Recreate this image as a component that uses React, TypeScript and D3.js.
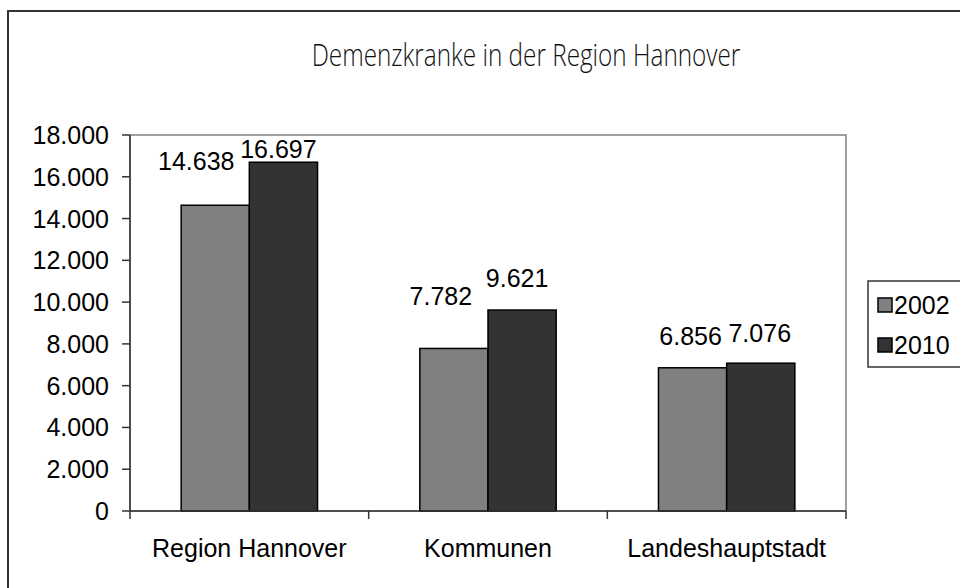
import * as d3 from 'd3'

const categories = ['Region Hannover', 'Kommunen', 'Landeshauptstadt']
const seriesNames = ['2002', '2010']
const values2002 = [14638, 7782, 6856]
const values2010 = [16697, 9621, 7076]
const yTicks = [0, 2000, 4000, 6000, 8000, 10000, 12000, 14000, 16000, 18000]

const COLORS = ['#808080', '#333333']
// hand-placed label nudges (dx, dy) as in the source chart
const LABEL_NUDGE = [
  [[-19, -31], [-5, 0]],
  [[-13, -39], [-5, -19]],
  [[-2, -19], [-1, -17]],
]

const de = d3.formatLocale({ decimal: ',', thousands: '.', grouping: [3], currency: ['', ' €'] })
const fmt = de.format(',d')

export default function App() {
  const W = 960
  const H = 588
  const plot = { left: 130, top: 135, right: 846, bottom: 511 }
  const font = 'Liberation Sans, Arial, sans-serif'
  const fs = 25

  const x = d3.scaleBand().domain(categories).range([plot.left, plot.right])
  const bandW = x.bandwidth()
  const barW = bandW / 3.5
  const inner = d3.scaleBand().domain(seriesNames).range([0, barW * 2])
  const y = d3.scaleLinear().domain([0, 18000]).range([plot.bottom, plot.top])

  const series = [values2002, values2010]
  const bounds = [plot.left, ...categories.map(c => (x(c) ?? 0) + bandW)]

  return (
    <svg width={W} height={H} style={{ position: 'absolute', left: 0, top: 0, background: '#fff' }}>
      <rect x={8} y={11} width={1100} height={700} fill="#fff" stroke="#333" strokeWidth={2} />
      <text
        x={526}
        y={66}
        textAnchor="middle"
        fontFamily="Open Sans, Lato, sans-serif"
        fontWeight={300}
        fontSize={32}
        fill="#111"
        transform="translate(526,0) scale(0.76,1) translate(-526,0)"
      >
        Demenzkranke in der Region Hannover
      </text>

      <rect
        x={plot.left}
        y={plot.top}
        width={plot.right - plot.left}
        height={plot.bottom - plot.top}
        fill="#fff"
        stroke="#808080"
        strokeWidth={1.5}
      />

      {/* bars */}
      {categories.map((c, ci) =>
        series.map((vals, si) => {
          const bx = (x(c) ?? 0) + (bandW - barW * 2) / 2 + (inner(seriesNames[si]) ?? 0)
          return (
            <rect
              key={c + si}
              x={bx}
              y={y(vals[ci])}
              width={barW}
              height={y(0) - y(vals[ci])}
              fill={COLORS[si]}
              stroke="#000"
              strokeWidth={1.5}
            />
          )
        })
      )}

      {/* value labels */}
      {categories.map((c, ci) =>
        series.map((vals, si) => {
          const bx = (x(c) ?? 0) + (bandW - barW * 2) / 2 + (inner(seriesNames[si]) ?? 0)
          const [dx, dy] = LABEL_NUDGE[ci][si]
          return (
            <text
              key={'l' + c + si}
              x={bx + barW / 2 + dx}
              y={y(vals[ci]) - 4 + dy}
              textAnchor="middle"
              fontFamily={font}
              fontSize={fs}
              fill="#000"
            >
              {fmt(vals[ci])}
            </text>
          )
        })
      )}

      {/* y axis */}
      <line x1={plot.left} x2={plot.left} y1={plot.top} y2={plot.bottom} stroke="#333" strokeWidth={1.5} />
      {yTicks.map(t => (
        <g key={t}>
          <line x1={plot.left - 8} x2={plot.left} y1={y(t)} y2={y(t)} stroke="#333" strokeWidth={1.5} />
          <text
            x={plot.left - 21}
            y={y(t)}
            dy="0.36em"
            textAnchor="end"
            fontFamily={font}
            fontSize={fs}
            fill="#000"
          >
            {fmt(t)}
          </text>
        </g>
      ))}

      {/* x axis */}
      <line x1={plot.left} x2={plot.right} y1={plot.bottom} y2={plot.bottom} stroke="#333" strokeWidth={1.5} />
      {bounds.map((b, i) => (
        <line key={i} x1={b} x2={b} y1={plot.bottom} y2={plot.bottom + 8} stroke="#333" strokeWidth={1.5} />
      ))}
      {categories.map(c => (
        <text
          key={c}
          x={(x(c) ?? 0) + bandW / 2}
          y={557}
          textAnchor="middle"
          fontFamily={font}
          fontSize={fs}
          fill="#000"
        >
          {c}
        </text>
      ))}

      {/* legend */}
      <rect x={868} y={281} width={140} height={86} fill="#fff" stroke="#333" strokeWidth={1.5} />
      {seriesNames.map((s, i) => (
        <g key={s} transform={`translate(878,${298 + i * 40})`}>
          <rect width={14} height={14} fill={COLORS[i]} stroke="#000" strokeWidth={1.5} />
          <text x={16} y={7} dy="0.36em" fontFamily={font} fontSize={fs} fill="#000">
            {s}
          </text>
        </g>
      ))}
    </svg>
  )
}
